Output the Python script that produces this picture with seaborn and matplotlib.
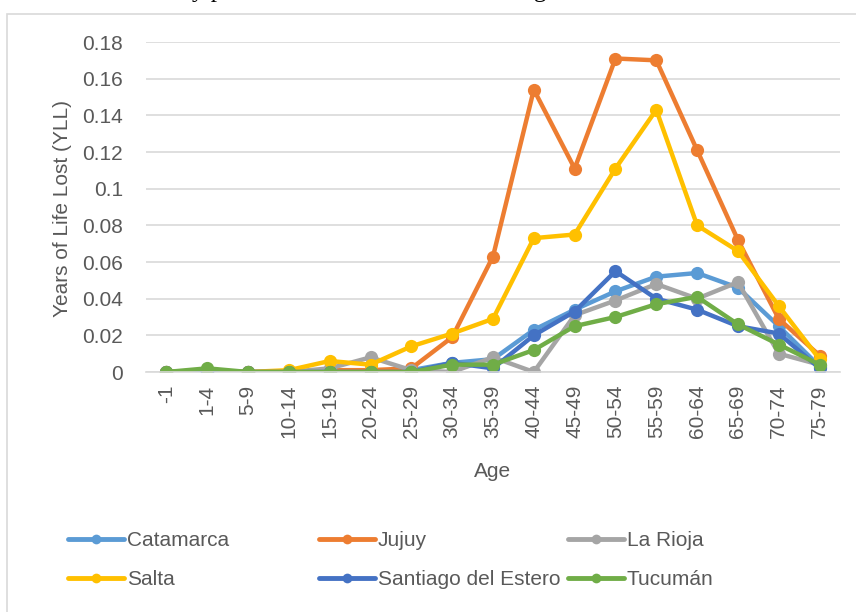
import pandas as pd
import seaborn as sns
import matplotlib
matplotlib.use('Agg')
import matplotlib.pyplot as plt
from matplotlib.lines import Line2D
from matplotlib.patches import Rectangle

# Age groups (x axis)
ages = ['-1', '1-4', '5-9', '10-14', '15-19', '20-24', '25-29', '30-34', '35-39',
        '40-44', '45-49', '50-54', '55-59', '60-64', '65-69', '70-74', '75-79']

# YLL per province
catamarca = [0, 0, 0, 0, 0, 0.001, 0.001, 0.005, 0.007, 0.023, 0.034, 0.044, 0.052, 0.054, 0.046, 0.025, 0.003]
jujuy = [0, 0, 0, 0, 0.001, 0.001, 0.002, 0.019, 0.063, 0.154, 0.111, 0.171, 0.170, 0.121, 0.072, 0.029, 0.009]
la_rioja = [0, 0.001, 0, 0, 0.002, 0.008, 0.001, 0, 0.008, 0, 0.031, 0.039, 0.048, 0.040, 0.049, 0.010, 0.004]
salta = [0, 0.001, 0, 0.001, 0.006, 0.004, 0.014, 0.021, 0.029, 0.073, 0.075, 0.111, 0.143, 0.080, 0.066, 0.036, 0.007]
santiago = [0, 0, 0, 0, 0, 0, 0, 0.005, 0.002, 0.020, 0.033, 0.055, 0.040, 0.034, 0.025, 0.021, 0.002]
tucuman = [0, 0.002, 0, 0, 0, 0, 0, 0.004, 0.004, 0.012, 0.025, 0.030, 0.037, 0.041, 0.026, 0.015, 0.004]

provinces = ['Catamarca', 'Jujuy', 'La Rioja', 'Salta', 'Santiago del Estero', 'Tucumán']
series = [catamarca, jujuy, la_rioja, salta, santiago, tucuman]
colors = ['#5B9BD5', '#ED7D31', '#A5A5A5', '#FFC000', '#4472C4', '#70AD47']

ytick_vals = [0, 0.02, 0.04, 0.06, 0.08, 0.1, 0.12, 0.14, 0.16, 0.18]
ytick_labels = ['0', '0.02', '0.04', '0.06', '0.08', '0.1', '0.12', '0.14', '0.16', '0.18']

# long format table for seaborn
rows = []
for prov, vals in zip(provinces, series):
    for age, v in zip(ages, vals):
        rows.append({'Age': age, 'YLL': v, 'Province': prov})
df = pd.DataFrame(rows)

sns.set_theme(style='white')
plt.rcParams['font.family'] = ['Liberation Sans', 'DejaVu Sans']
txt_color = '#595959'
grid_color = '#D9D9D9'

fig = plt.figure(figsize=(8.56, 6.12), dpi=100)
ax = fig.add_axes([146 / 856, 1 - 372 / 612, 694 / 856, 330 / 612])

sns.lineplot(data=df, x='Age', y='YLL', hue='Province', hue_order=provinces,
             palette=colors, marker='o', markersize=9.5, markeredgewidth=0,
             linewidth=3.2, sort=False, legend=False, ax=ax)

ax.set_xlim(-0.5, len(ages) - 0.5)
ax.set_ylim(0, 0.18)
ax.set_yticks(ytick_vals)
ax.set_yticklabels(ytick_labels)
ax.set_xticks(range(len(ages)))
ax.set_xticklabels(ages, rotation=90)
ax.tick_params(axis='y', length=0, pad=16.5, labelsize=15, labelcolor=txt_color)
ax.tick_params(axis='x', length=0, pad=9, labelsize=15, labelcolor=txt_color)

ax.yaxis.grid(True, color=grid_color, linewidth=1.2)
ax.set_axisbelow(True)
for side in ['top', 'right', 'left']:
    ax.spines[side].set_visible(False)
ax.spines['bottom'].set_color(grid_color)
ax.spines['bottom'].set_linewidth(1.2)

ax.set_xlabel('Age', fontsize=15, color=txt_color)
ax.xaxis.set_label_coords(0.5, -0.2727)
ax.xaxis.label.set_verticalalignment('top')
ax.set_ylabel('Years of Life Lost (YLL)', fontsize=15, color=txt_color)
ax.yaxis.set_label_coords(-0.1066, 0.494)

# legend laid out like Excel: three fixed columns, two rows
col_x = [68, 319, 568]
col_items = [[0, 3], [1, 4], [2, 5]]
for cx, idxs in zip(col_x, col_items):
    handles = [Line2D([], [], color=colors[i], lw=3.5, marker='o', markersize=7,
                      markeredgewidth=0) for i in idxs]
    labels = [provinces[i] for i in idxs]
    leg = fig.legend(handles, labels, loc='upper left',
                     bbox_to_anchor=(cx / 856, 1 - 531 / 612),
                     frameon=False, borderpad=0, borderaxespad=0,
                     handlelength=2.7, handletextpad=0.12, labelspacing=0.95,
                     fontsize=15, labelcolor=txt_color)

# chart border and the clipped caption above it (only its bottom edge shows)
fig.patches.append(Rectangle((7 / 856, -0.01), 1.0, 1 - 14 / 612 + 0.01,
                             transform=fig.transFigure, fill=False,
                             edgecolor=grid_color, linewidth=1.2))
fig.text(192 / 856, 1 + 2.5 / 612, 'y province of residence between age and sex',
         family=['Liberation Serif', 'DejaVu Serif'], fontsize=18,
         ha='left', va='baseline', color='black')

fig.savefig('out.png', dpi=100)
